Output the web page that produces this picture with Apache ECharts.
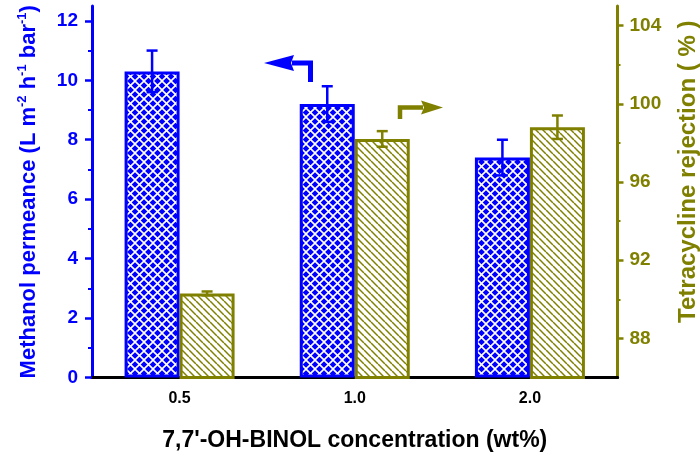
<!DOCTYPE html>
<html><head><meta charset="utf-8">
<script src="https://cdn.jsdelivr.net/npm/echarts@6/dist/echarts.min.js"></script>
<style>html,body{margin:0;padding:0;background:#fff}#c{width:700px;height:457px}</style>
</head><body><div id="c"></div>
<script>
const categories = ['0.5', '1.0', '2.0'];
const permeance = [10.3, 9.2, 7.4];
const permeanceErr = [0.7, 0.6, 0.6];
const rejection = [90.3, 98.2, 98.8];
const rejectionErr = [0.1, 0.4, 0.6];
const leftTicks = [0, 2, 4, 6, 8, 10, 12];
const leftMinorTicks = [1, 3, 5, 7, 9, 11];
const rightTicks = [88, 92, 96, 100, 104];
const rightMinorTicks = [90, 94, 98, 102];

const BLUE = '#0000ff', OLIVE = '#808000';
const FONT = '"Liberation Sans", Arial, sans-serif';

function crossPattern() {
  const n = 9;
  const c = document.createElement('canvas');
  c.width = c.height = n;
  const g = c.getContext('2d');
  g.fillStyle = BLUE; g.fillRect(0, 0, n, n);
  g.strokeStyle = '#fff'; g.lineWidth = 1.6;
  for (let k = -1; k <= 1; k++) {
    g.beginPath(); g.moveTo(k * n, 0); g.lineTo(k * n + n, n); g.stroke();
    g.beginPath(); g.moveTo(k * n + n, 0); g.lineTo(k * n, n); g.stroke();
  }
  return c;
}
function hatchPattern() {
  const n = 7;
  const c = document.createElement('canvas');
  c.width = c.height = n;
  const g = c.getContext('2d');
  g.fillStyle = '#fff'; g.fillRect(0, 0, n, n);
  g.strokeStyle = OLIVE; g.lineWidth = 1.5;
  for (let k = -1; k <= 1; k++) {
    g.beginPath(); g.moveTo(k * n, 0); g.lineTo(k * n + n, n); g.stroke();
  }
  return c;
}

const BAR_W = 55;
function errRender(color) {
  return function (params, api) {
    const i = api.value(0), v = api.value(1), e = api.value(2);
    const off = (color === BLUE ? -1 : 1) * BAR_W / 2;
    const top = api.coord([i, v + e]);
    const bot = api.coord([i, v - e]);
    const x = top[0] + off;
    const cap = 5.5;
    const st = { stroke: color, lineWidth: 2.5 };
    return {
      type: 'group',
      children: [
        { type: 'line', shape: { x1: x, y1: top[1], x2: x, y2: bot[1] }, style: st },
        { type: 'line', shape: { x1: x - cap, y1: top[1], x2: x + cap, y2: top[1] }, style: st },
        { type: 'line', shape: { x1: x - cap, y1: bot[1], x2: x + cap, y2: bot[1] }, style: st }
      ]
    };
  };
}

const chart = echarts.init(document.getElementById('c'), null, { renderer: 'canvas' });
const leftName = '{n|Methanol permeance (L m}{s|-2}{n| h}{s|-1}{n| bar}{s|-1}{n|)}';

const option = {
  animation: false,
  textStyle: { fontFamily: FONT },
  grid: { left: 92, right: 82.5, top: 6, bottom: 79.5, containLabel: false, outerBoundsMode: 'none' },
  xAxis: [{
    type: 'category', data: categories,
    axisLine: { lineStyle: { color: '#000', width: 3 } },
    axisTick: { alignWithLabel: true, length: 6, lineStyle: { color: '#000', width: 3 } },
    axisLabel: { color: '#000', fontSize: 16, fontWeight: 'bold', margin: 13, fontFamily: FONT },
    name: "7,7'-OH-BINOL concentration (wt%)", nameLocation: 'middle', nameGap: 52,
    nameTextStyle: { color: '#000', fontSize: 23, fontWeight: 'bold', fontFamily: FONT }
  }, {
    type: 'category', data: categories, position: 'top',
    axisLine: { lineStyle: { color: '#000', width: 3 } },
    axisTick: { show: false }, axisLabel: { show: false }
  }],
  yAxis: [{
    type: 'value', position: 'left', min: 0, max: 12.5, interval: 2,
    axisLine: { show: true, lineStyle: { color: BLUE, width: 3 } },
    axisTick: { show: true, length: 7, customValues: leftTicks, lineStyle: { color: BLUE, width: 2.5 } },
    axisLabel: { color: BLUE, fontSize: 19, fontWeight: 'bold', margin: 14, customValues: leftTicks, fontFamily: FONT },
    splitLine: { show: false },
    name: leftName, nameLocation: 'middle', nameGap: 50, nameRotate: 90,
    nameTextStyle: {
      color: BLUE, fontFamily: FONT,
      rich: {
        n: { fontSize: 22, fontWeight: 'bold', color: BLUE, fontFamily: FONT, lineHeight: 26 },
        s: { fontSize: 13, fontWeight: 'bold', color: BLUE, fontFamily: FONT, verticalAlign: 'top', lineHeight: 26 }
      }
    }
  }, {
    type: 'value', position: 'right', min: 86, max: 105, interval: 2,
    axisLine: { show: true, lineStyle: { color: OLIVE, width: 3 } },
    axisTick: { show: true, length: 6, customValues: rightTicks, lineStyle: { color: OLIVE, width: 2.5 } },
    axisLabel: { color: OLIVE, fontSize: 19, fontWeight: 'bold', margin: 12, customValues: rightTicks, fontFamily: FONT },
    splitLine: { show: false },
    name: 'Tetracycline rejection ( % )', nameLocation: 'middle', nameGap: 59, nameRotate: 90,
    nameTextStyle: { color: OLIVE, fontSize: 24, fontWeight: 'bold', fontFamily: FONT, padding: [0, 0, 0, 40] }
  }, {
    type: 'value', position: 'left', min: 0, max: 12.5, interval: 2,
    axisLine: { show: false },
    axisTick: { show: true, length: 4, customValues: leftMinorTicks, lineStyle: { color: BLUE, width: 2 } },
    axisLabel: { show: false }, splitLine: { show: false }
  }, {
    type: 'value', position: 'right', min: 86, max: 105, interval: 2,
    axisLine: { show: false },
    axisTick: { show: true, length: 3, customValues: rightMinorTicks, lineStyle: { color: OLIVE, width: 2 } },
    axisLabel: { show: false }, splitLine: { show: false }
  }],
  series: [{
    type: 'bar', yAxisIndex: 0, data: permeance, barWidth: BAR_W, barGap: '0%',
    itemStyle: { color: { image: crossPattern(), repeat: 'repeat' }, borderColor: BLUE, borderWidth: 3 }
  }, {
    type: 'bar', yAxisIndex: 1, data: rejection, barWidth: BAR_W, barGap: '0%',
    itemStyle: { color: { image: hatchPattern(), repeat: 'repeat' }, borderColor: OLIVE, borderWidth: 3 }
  }, {
    type: 'custom', yAxisIndex: 0, z: 5,
    data: permeance.map((v, i) => [i, v, permeanceErr[i]]),
    renderItem: errRender(BLUE)
  }, {
    type: 'custom', yAxisIndex: 1, z: 5,
    data: rejection.map((v, i) => [i, v, rejectionErr[i]]),
    renderItem: errRender(OLIVE)
  }],
  graphic: [
    { type: 'polyline', shape: { points: [[292, 63], [310.5, 63], [310.5, 82]] }, style: { stroke: BLUE, lineWidth: 5, fill: null } },
    { type: 'polygon', shape: { points: [[264, 63], [294, 55], [291, 63], [294, 71]] }, style: { fill: BLUE } },
    { type: 'polyline', shape: { points: [[400, 119], [400, 107.5], [423, 107.5]] }, style: { stroke: OLIVE, lineWidth: 4.5, fill: null } },
    { type: 'polygon', shape: { points: [[443, 107.5], [421, 100.5], [424, 107.5], [421, 114.5]] }, style: { fill: OLIVE } }
  ]
};
chart.setOption(option);
</script>
</body></html>
